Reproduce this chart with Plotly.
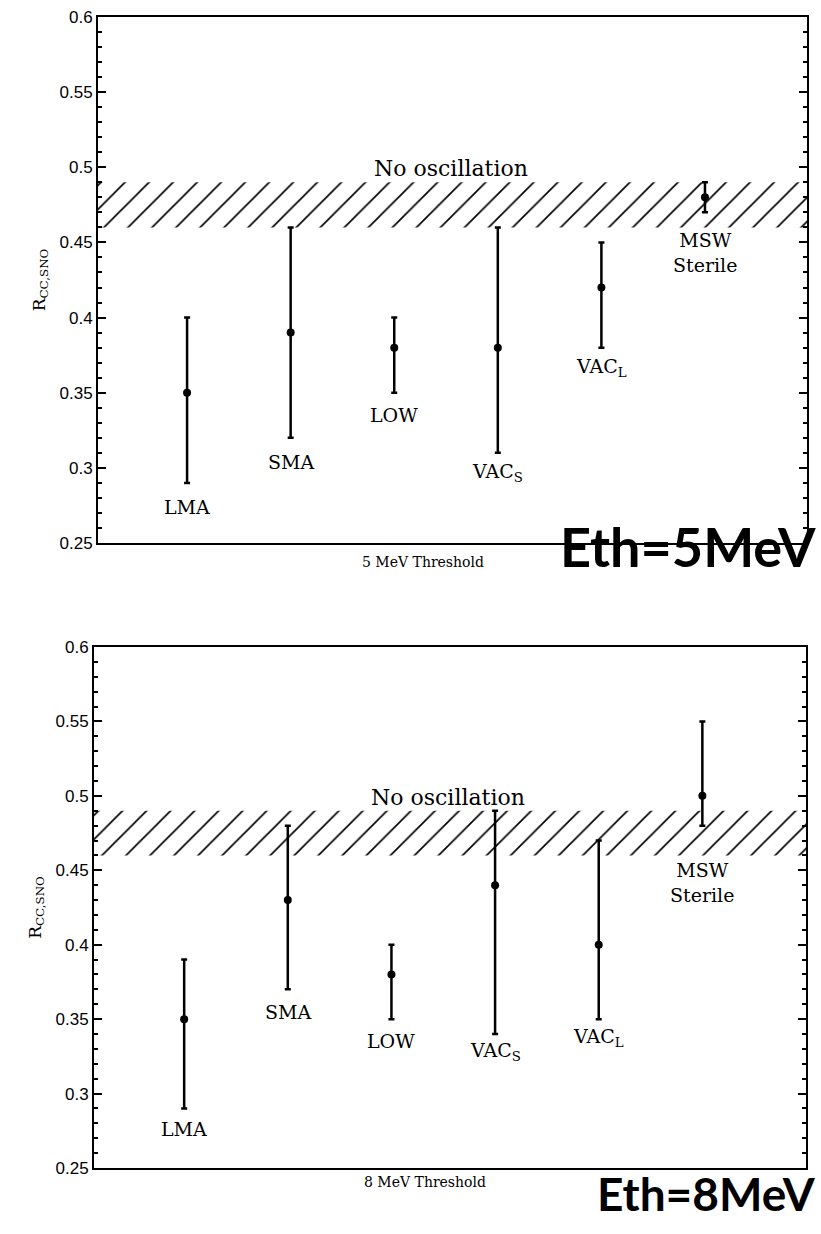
import plotly.graph_objects as go

# ---------------- data ----------------
models = ["LMA", "SMA", "LOW", "VAC<sub>S</sub>", "VAC<sub>L</sub>", "MSW<br>Sterile"]
xpos = [1, 2, 3, 4, 5, 6]

# 5 MeV threshold
r5_val = [0.35, 0.39, 0.38, 0.38, 0.42, 0.48]
r5_lo = [0.29, 0.32, 0.35, 0.31, 0.38, 0.47]
r5_hi = [0.40, 0.46, 0.40, 0.46, 0.45, 0.49]
lab5_y = [0.274, 0.304, 0.335, 0.297, 0.367, 0.443]

# 8 MeV threshold
r8_val = [0.35, 0.43, 0.38, 0.44, 0.40, 0.50]
r8_lo = [0.29, 0.37, 0.35, 0.34, 0.35, 0.48]
r8_hi = [0.39, 0.48, 0.40, 0.49, 0.47, 0.55]
lab8_y = [0.276, 0.355, 0.335, 0.328, 0.338, 0.442]

no_osc_band = [0.46, 0.49]
yticks = [0.25, 0.3, 0.35, 0.4, 0.45, 0.5, 0.55, 0.6]
yticktext = ["0.25", "0.3", "0.35", "0.4", "0.45", "0.5", "0.55", "0.6"]

W, H = 821, 1234
panels = [
    dict(val=r5_val, lo=r5_lo, hi=r5_hi, laby=lab5_y, xr=[0.14, 6.985],
         px=(98, 807), py=(17, 543), thr="5 MeV Threshold", eth="Eth=5MeV",
         thr_x=423, thr_y=562, eth_x=818, eth_y=546, eth_size=54),
    dict(val=r8_val, lo=r8_lo, hi=r8_hi, laby=lab8_y, xr=[0.13, 7.0],
         px=(94, 806), py=(647, 1168), thr="8 MeV Threshold", eth="Eth=8MeV",
         thr_x=425, thr_y=1192, eth_x=818, eth_y=1193, eth_size=46),
]

fig = go.Figure()
serif = "DejaVu Serif"
sans = "Liberation Sans"

for i, p in enumerate(panels):
    k = "" if i == 0 else str(i + 1)
    xa, ya = "x" + k, "y" + k
    # hatched no-oscillation band
    fig.add_trace(go.Bar(
        x=[(p["xr"][0] + p["xr"][1]) / 2], y=[no_osc_band[1] - no_osc_band[0]],
        base=[no_osc_band[0]], width=[p["xr"][1] - p["xr"][0]],
        marker=dict(color="white", line=dict(width=0),
                    pattern=dict(shape="/", fgcolor="black", bgcolor="white",
                                 fgopacity=1, size=17, solidity=0.1)),
        xaxis=xa, yaxis=ya, showlegend=False, hoverinfo="skip"))
    # points with asymmetric error bars
    fig.add_trace(go.Scatter(
        x=xpos, y=p["val"], mode="markers",
        marker=dict(color="black", size=8),
        error_y=dict(type="data", symmetric=False,
                     array=[h - v for h, v in zip(p["hi"], p["val"])],
                     arrayminus=[v - l for v, l in zip(p["val"], p["lo"])],
                     color="black", thickness=2.5, width=3),
        xaxis=xa, yaxis=ya, showlegend=False))
    # model labels
    for xm, nm, ly in zip(xpos, models, p["laby"]):
        fig.add_annotation(x=xm, y=ly, xref=xa, yref=ya, text=nm, showarrow=False,
                           font=dict(family=serif, size=19, color="black"))
    fig.add_annotation(x=3.55, y=0.499, xref=xa, yref=ya, text="No oscillation",
                       showarrow=False, font=dict(family=serif, size=22, color="black"))
    fig.add_annotation(x=p["thr_x"] / W, y=1 - p["thr_y"] / H, xref="paper", yref="paper",
                       text=p["thr"], showarrow=False,
                       font=dict(family=serif, size=14, color="black"))
    fig.add_annotation(x=p["eth_x"] / W, y=1 - p["eth_y"] / H, xref="paper", yref="paper",
                       xanchor="right", yanchor="middle",
                       text=p["eth"], showarrow=False,
                       font=dict(family="Lato", size=p["eth_size"], color="black",
                                 weight="bold"))

    dom_x = [p["px"][0] / W, p["px"][1] / W]
    dom_y = [1 - p["py"][1] / H, 1 - p["py"][0] / H]
    fig.update_layout(**{
        "xaxis" + k: dict(domain=dom_x, range=p["xr"], showticklabels=False, ticks="",
                          showgrid=False, zeroline=False, showline=True, linecolor="black",
                          linewidth=2, mirror=True, anchor=ya, automargin=False),
        "yaxis" + k: dict(domain=dom_y, range=[0.25, 0.6], tickvals=yticks, ticktext=yticktext,
                          ticks="inside", ticklen=8, tickwidth=2, tickcolor="black",
                          minor=dict(dtick=0.01, tick0=0.25, ticks="inside", ticklen=4,
                                     tickwidth=1.5, tickcolor="black"),
                          showgrid=False, zeroline=False, showline=True, linecolor="black",
                          linewidth=2, mirror="allticks", anchor=xa, automargin=False,
                          tickfont=dict(family=sans, size=17, color="black"),
                          title=dict(text="R<sub>CC,SNO</sub>", standoff=10,
                                     font=dict(family=serif, size=17, color="black"))),
    })

fig.update_layout(width=W, height=H, margin=dict(l=0, r=0, t=0, b=0),
                  plot_bgcolor="white", paper_bgcolor="white", barmode="overlay")
fig.write_html("out.html")
